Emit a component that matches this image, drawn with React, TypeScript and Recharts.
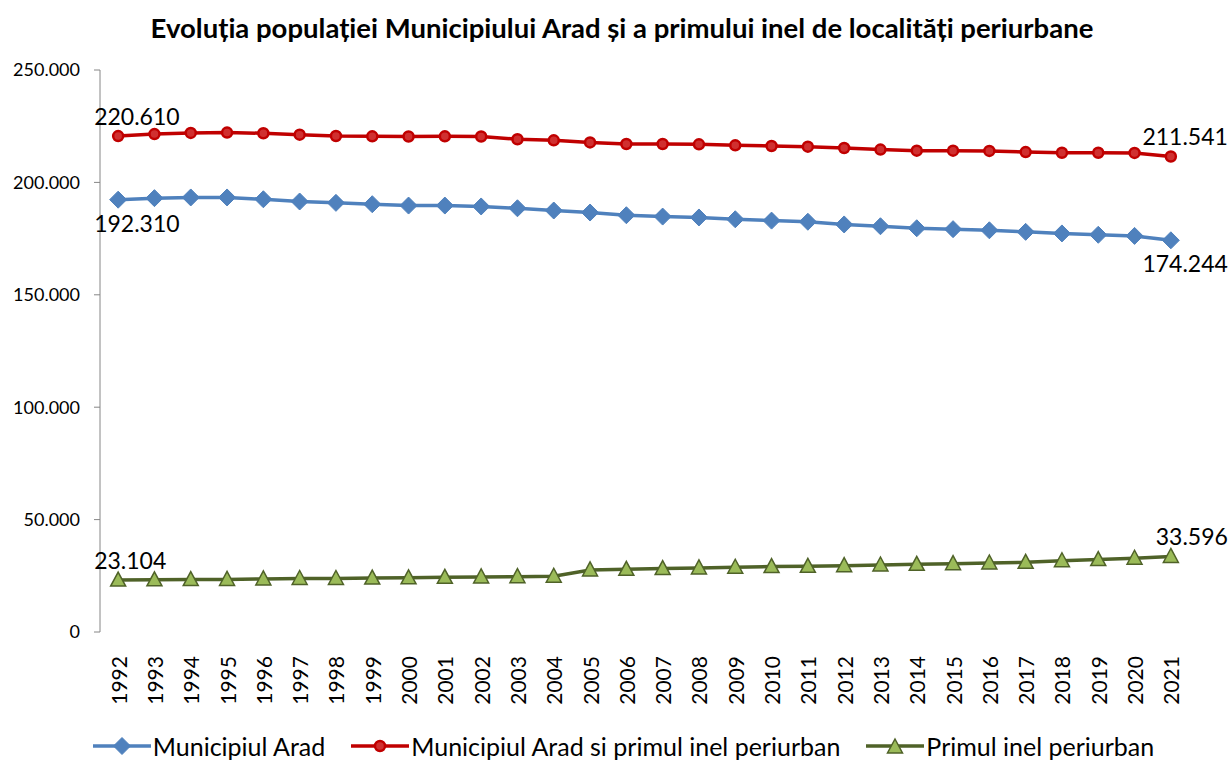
import React from "react";
import { LineChart, Line, XAxis, YAxis, Legend, LabelList } from "recharts";

const years = [
  "1992", "1993", "1994", "1995", "1996", "1997", "1998", "1999", "2000", "2001",
  "2002", "2003", "2004", "2005", "2006", "2007", "2008", "2009", "2010", "2011",
  "2012", "2013", "2014", "2015", "2016", "2017", "2018", "2019", "2020", "2021",
];

const municipiulArad = [
  192310, 193000, 193300, 193300, 192500, 191500, 190900, 190300, 189700, 189700,
  189300, 188500, 187500, 186600, 185400, 184800, 184400, 183600, 183000, 182500,
  181300, 180500, 179600, 179200, 178700, 178000, 177300, 176700, 176200, 174244,
];

const aradSiInel = [
  220610, 221500, 222000, 222150, 221850, 221250, 220650, 220500, 220400, 220500,
  220400, 219200, 218700, 217800, 217100, 217100, 216950, 216500, 216200, 215900,
  215300, 214600, 214100, 214100, 214000, 213500, 213200, 213200, 213100, 211541,
];

const primulInel = [
  23104, 23200, 23300, 23400, 23600, 23800, 23800, 24000, 24100, 24300,
  24500, 24600, 24800, 27600, 27900, 28200, 28500, 28800, 29100, 29200,
  29500, 29800, 30100, 30400, 30700, 31000, 31700, 32200, 32800, 33596,
];

const yTicks = [0, 50000, 100000, 150000, 200000, 250000];

const data = years.map((year, i) => ({
  i,
  year,
  arad: municipiulArad[i],
  total: aradSiInel[i],
  inel: primulInel[i],
}));

const centerTicks = years.map((_, i) => i);
const boundaryTicks = [...years.map((_, i) => i - 0.5), years.length - 0.5];

const FONT = "Lato, 'Noto Sans', sans-serif";
const BLUE = "#4F81BD";
const RED = "#C00000";
const GREEN = "#4F6228";
const GREEN_FILL = "#9BBB59";
const AXIS = "#868686";

const fmt = (v: number) => String(Math.round(v)).replace(/\B(?=(\d{3})+(?!\d))/g, ".");

function YearTick({ x, y, payload }: any) {
  return (
    <text
      x={x}
      y={y + 16}
      transform={`rotate(-90, ${x}, ${y + 16})`}
      textAnchor="end"
      dominantBaseline="central"
      fontFamily={FONT}
      fontSize={21}
      fill="#000"
    >
      {years[payload.value]}
    </text>
  );
}

function Diamond({ cx, cy }: any) {
  if (cx == null || cy == null) return null;
  const r = 8.5;
  return <path d={`M${cx},${cy - r}L${cx + r},${cy}L${cx},${cy + r}L${cx - r},${cy}Z`} fill={BLUE} stroke={BLUE} strokeWidth={1} />;
}

function Dot({ cx, cy }: any) {
  if (cx == null || cy == null) return null;
  return <circle cx={cx} cy={cy} r={5} fill="#D03030" stroke={RED} strokeWidth={2.5} />;
}

function Triangle({ cx, cy }: any) {
  if (cx == null || cy == null) return null;
  return (
    <path
      d={`M${cx},${cy - 8}L${cx + 7.5},${cy + 6}L${cx - 7.5},${cy + 6}Z`}
      fill={GREEN_FILL}
      stroke={GREEN}
      strokeWidth={1.5}
    />
  );
}

const endLabel = (below: boolean) => (props: any) => {
  const { x, y, value, index } = props;
  const last = data.length - 1;
  if (index !== 0 && index !== last) return null;
  const first = index === 0;
  return (
    <text
      x={first ? x - 24 : x + 57}
      y={below ? y + 23 : y - 20}
      textAnchor={first ? "start" : "end"}
      dominantBaseline="central"
      fontFamily={FONT}
      fontSize={23}
      fill="#000"
    >
      {fmt(value)}
    </text>
  );
};

const legendItems = [
  { name: "Municipiul Arad", color: BLUE, marker: "diamond" },
  { name: "Municipiul Arad si primul inel periurban", color: RED, marker: "dot" },
  { name: "Primul inel periurban", color: GREEN, marker: "triangle" },
];

function LegendIcon({ marker, color }: { marker: string; color: string }) {
  return (
    <svg width={58} height={20} style={{ display: "block" }}>
      <line x1={0} y1={10} x2={58} y2={10} stroke={color} strokeWidth={3.5} />
      {marker === "diamond" && <Diamond cx={29} cy={10} />}
      {marker === "dot" && <Dot cx={29} cy={10} />}
      {marker === "triangle" && <Triangle cx={29} cy={11} />}
    </svg>
  );
}

function ChartLegend() {
  return (
    <div style={{ display: "flex", justifyContent: "center", alignItems: "center", gap: 26, fontFamily: FONT, fontSize: 25, color: "#000", height: 30, paddingLeft: 58, paddingTop: 1 }}>
      {legendItems.map((it) => (
        <div key={it.name} style={{ display: "flex", alignItems: "center", gap: 2 }}>
          <LegendIcon marker={it.marker} color={it.color} />
          <span style={{ whiteSpace: "nowrap" }}>{it.name}</span>
        </div>
      ))}
    </div>
  );
}

export default function App() {
  return (
    <div style={{ position: "absolute", left: 0, top: 0, width: 1232, height: 760, background: "#fff" }}>
      <div
        style={{
          position: "absolute",
          top: 11,
          left: 0,
          width: 1244,
          textAlign: "center",
          fontFamily: FONT,
          fontWeight: 700,
          fontSize: 27.5,
          color: "#000",
        }}
      >
        Evoluția populației Municipiului Arad și a primului inel de localități periurbane
      </div>
      <LineChart width={1232} height={760} data={data} margin={{ top: 70, right: 43, bottom: 0, left: 0 }}>
        <XAxis
          xAxisId="grid"
          type="number"
          dataKey="i"
          domain={[-0.5, years.length - 0.5]}
          ticks={boundaryTicks}
          tick={false}
          tickSize={8}
          stroke={AXIS}
          height={0}
          allowDataOverflow
        />
        <XAxis
          xAxisId="main"
          type="number"
          dataKey="i"
          domain={[-0.5, years.length - 0.5]}
          ticks={centerTicks}
          interval={0}
          tick={<YearTick />}
          tickLine={false}
          axisLine={false}
          height={98}
          allowDataOverflow
        />
        <YAxis
          type="number"
          domain={[0, 250000]}
          ticks={yTicks}
          tickFormatter={fmt}
          width={100}
          tickSize={6}
          tickMargin={14}
          stroke={AXIS}
          tick={{ fill: "#000", fontFamily: FONT, fontSize: 18 }}
        />
        <Legend verticalAlign="bottom" height={30} content={<ChartLegend />} />
        <Line xAxisId="main" dataKey="arad" stroke={BLUE} strokeWidth={3.5} dot={<Diamond />} isAnimationActive={false}>
          <LabelList dataKey="arad" content={endLabel(true)} />
        </Line>
        <Line xAxisId="main" dataKey="total" stroke={RED} strokeWidth={3.5} dot={<Dot />} isAnimationActive={false}>
          <LabelList dataKey="total" content={endLabel(false)} />
        </Line>
        <Line xAxisId="main" dataKey="inel" stroke={GREEN} strokeWidth={3.5} dot={<Triangle />} isAnimationActive={false}>
          <LabelList dataKey="inel" content={endLabel(false)} />
        </Line>
      </LineChart>
    </div>
  );
}
